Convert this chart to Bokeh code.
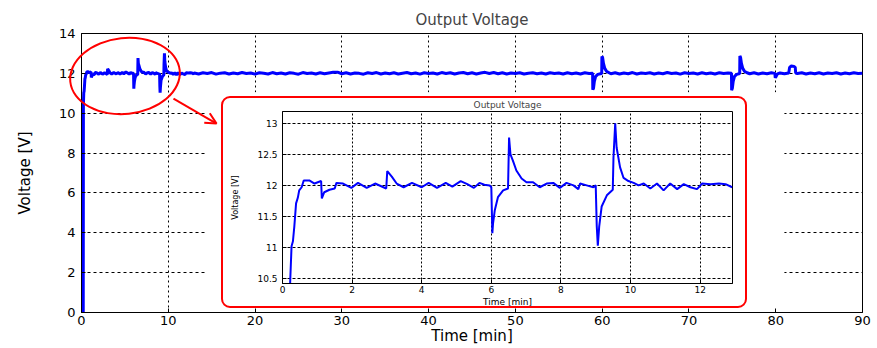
from bokeh.plotting import figure
from bokeh.layouts import column
from bokeh.models import (Range1d, FixedTicker, NumeralTickFormatter, Arrow, OpenHead, Div)
from bokeh.embed import file_html
from bokeh.resources import INLINE

FONT = "DejaVu Sans"
BLUE = "#0000FF"

# ---------------- data ----------------
# zoomed first minutes (inset), also the start of the main trace
inset_t = [0.20, 0.22, 0.26, 0.30, 0.34, 0.39, 0.44, 0.48, 0.55, 0.61,
           0.77, 0.92, 1.11, 1.13, 1.20, 1.35, 1.50, 1.55, 1.74, 1.98,
           2.17, 2.42, 2.66, 2.98, 3.01, 3.14, 3.28, 3.48, 3.72, 4.00,
           4.20, 4.44, 4.69, 4.88, 5.12, 5.31, 5.50, 5.66, 5.80, 5.95,
           6.00, 6.03, 6.05, 6.10, 6.19, 6.34, 6.48, 6.51, 6.55, 6.62,
           6.72, 6.87, 7.01, 7.20, 7.39, 7.59, 7.78, 7.97, 8.16, 8.36,
           8.50, 8.55, 8.74, 8.93, 9.00, 9.03, 9.06, 9.10, 9.17, 9.32,
           9.49, 9.51, 9.56, 9.60, 9.70, 9.80, 9.94, 10.09, 10.23, 10.38,
           10.57, 10.76, 10.95, 11.14, 11.34, 11.53, 11.72, 11.91, 12.06, 12.30,
           12.54, 12.73, 12.92]
inset_v = [0.00, 10.44, 11.02, 11.10, 11.34, 11.71, 11.80, 11.92, 11.97, 12.08,
           12.08, 12.03, 12.07, 11.79, 11.89, 11.93, 11.95, 12.04, 12.03, 11.96,
           12.04, 11.96, 12.03, 11.95, 12.23, 12.14, 12.03, 11.97, 12.04, 11.97,
           12.04, 11.96, 12.04, 11.98, 12.07, 12.02, 11.96, 12.04, 12.01, 12.00,
           11.97, 11.23, 11.39, 11.60, 11.81, 11.92, 11.95, 12.77, 12.50, 12.40,
           12.24, 12.11, 12.05, 12.05, 11.97, 12.03, 12.04, 11.96, 12.04, 12.00,
           11.94, 12.03, 12.00, 11.97, 12.00, 11.34, 11.03, 11.34, 11.66, 11.84,
           11.93, 12.45, 13.00, 12.61, 12.29, 12.12, 12.07, 12.04, 12.00, 12.03,
           11.95, 12.03, 11.92, 12.03, 11.94, 12.02, 11.97, 11.94, 12.03, 12.02,
           12.03, 12.02, 11.97]

# rest of the 90-minute run
rest_t = [13.0, 13.5, 14.0, 14.5, 15.0, 15.5, 16.0, 16.5, 17.0, 17.5,
          18.0, 18.5, 19.0, 19.5, 20.0, 20.5, 21.0, 21.5, 22.0, 22.5,
          23.0, 23.5, 24.0, 24.5, 25.0, 25.5, 26.0, 26.5, 27.0, 27.5,
          28.0, 28.5, 29.0, 29.5, 30.0, 30.5, 31.0, 31.5, 32.0, 32.5,
          33.0, 33.5, 34.0, 34.5, 35.0, 35.5, 36.0, 36.5, 37.0, 37.5,
          38.0, 38.5, 39.0, 39.5, 40.0, 40.5, 41.0, 41.5, 42.0, 42.5,
          43.0, 43.5, 44.0, 44.5, 45.0, 45.5, 46.0, 46.5, 47.0, 47.5,
          48.0, 48.5, 49.0, 49.5, 50.0, 50.5, 51.0, 51.5, 52.0, 52.5,
          53.0, 53.5, 54.0, 54.5, 55.0, 55.5, 56.0, 56.5, 57.0, 57.5,
          58.0, 58.5, 58.90, 58.92, 59.00, 59.10, 59.25, 59.50, 59.80, 59.95,
          59.97, 60.05, 60.15, 60.30, 60.50, 60.80, 61.0, 61.5, 62.0, 62.5,
          63.0, 63.5, 64.0, 64.5, 65.0, 65.5, 66.0, 66.5, 67.0, 67.5,
          68.0, 68.5, 69.0, 69.5, 70.0, 70.5, 71.0, 71.5, 72.0, 72.5,
          73.0, 73.5, 74.0, 74.5, 74.90, 74.92, 75.00, 75.10, 75.25, 75.50,
          75.85, 75.87, 75.95, 76.05, 76.20, 76.40, 76.70, 77.0, 77.5, 78.0,
          78.5, 79.0, 79.5, 79.90, 79.95, 80.05, 80.20, 80.5, 81.0, 81.5,
          81.60, 81.80, 82.10, 82.25, 82.30, 82.5, 83.0, 83.5, 84.0, 84.5,
          85.0, 85.5, 86.0, 86.5, 87.0, 87.5, 88.0, 88.5, 89.0, 89.5,
          90.0]
rest_v = [12.02, 11.97, 12.03, 11.99, 12.04, 11.96, 12.01, 12.03, 11.97, 12.02,
          11.98, 12.04, 11.99, 12.02, 11.96, 12.03, 12.00, 11.97, 12.04, 11.98,
          12.02, 11.97, 12.03, 12.00, 11.96, 12.04, 11.99, 12.02, 11.97, 12.03,
          11.98, 12.02, 12.05, 12.06, 11.98, 12.03, 11.97, 12.02, 12.00, 11.96,
          12.03, 11.99, 12.04, 11.97, 12.02, 11.98, 12.03, 11.97, 12.01, 12.04,
          11.98, 12.02, 11.96, 12.03, 11.99, 12.02, 11.97, 12.04, 11.99, 12.03,
          11.97, 12.02, 12.04, 11.98, 12.03, 11.97, 12.02, 12.05, 11.99, 12.04,
          11.98, 12.03, 11.97, 12.02, 11.99, 12.03, 11.97, 12.01, 12.03, 11.98,
          12.02, 11.97, 12.03, 11.99, 12.02, 11.97, 12.03, 11.98, 12.02, 11.97,
          12.03, 11.99, 12.00, 11.18, 11.25, 11.60, 11.85, 11.95, 11.98, 11.99,
          12.85, 12.80, 12.50, 12.25, 12.10, 12.03, 11.98, 12.03, 11.97, 12.02,
          11.98, 12.04, 11.97, 12.02, 11.99, 12.03, 11.97, 12.02, 11.98, 12.04,
          11.99, 12.02, 11.96, 12.03, 11.99, 12.02, 11.97, 12.03, 11.98, 12.02,
          11.97, 12.03, 11.99, 12.02, 12.00, 11.15, 11.25, 11.60, 11.85, 11.95,
          11.99, 12.87, 12.80, 12.50, 12.25, 12.10, 12.03, 11.98, 12.03, 11.97,
          12.02, 11.98, 12.03, 12.00, 11.78, 11.85, 11.97, 12.02, 11.98, 12.02,
          12.30, 12.37, 12.35, 12.30, 12.02, 11.99, 12.03, 11.97, 12.02, 11.98,
          12.03, 11.97, 12.02, 11.99, 12.03, 11.97, 12.02, 11.98, 12.03, 11.99,
          12.01]

assert len(inset_t) == len(inset_v)
assert len(rest_t) == len(rest_v)
main_t = inset_t + rest_t
main_v = inset_v + rest_v

main_x_ticks = [0, 10, 20, 30, 40, 50, 60, 70, 80, 90]
main_y_ticks = [0, 2, 4, 6, 8, 10, 12, 14]
inset_x_ticks = [0, 2, 4, 6, 8, 10, 12]
inset_y_ticks = [10.5, 11, 11.5, 12, 12.5, 13]

# annotation geometry (data units of the main plot)
ARROW = dict(x0=10.6, y0=10.73, x1=15.56, y1=9.48)
BLANK = dict(left=14.46, right=81.0, bottom=0.02, top=11.05)


def style_axes(fig, tick_size, label_size):
    for ax in (fig.xaxis[0], fig.yaxis[0]):
        ax.axis_line_color = "black"
        ax.major_tick_in = 4
        ax.major_tick_out = 0
        ax.minor_tick_line_color = None
        ax.major_tick_line_color = "black"
        ax.major_label_text_font = FONT
        ax.major_label_text_font_size = tick_size
        ax.major_label_text_color = "black"
        ax.axis_label_text_font = FONT
        ax.axis_label_text_font_size = label_size
        ax.axis_label_text_font_style = "normal"
        ax.axis_label_text_color = "black"
    fig.outline_line_color = "black"
    fig.outline_line_alpha = 1.0


# ---------------- main plot ----------------
p = figure(width=876, height=347, x_range=Range1d(0, 90), y_range=Range1d(0, 14),
           output_backend="svg", toolbar_location=None,
           min_border_left=81, min_border_right=10, min_border_top=33, min_border_bottom=34,
           title="Output Voltage", x_axis_label="Time [min]", y_axis_label="Voltage [V]")
p.title.text_font = FONT
p.title.text_font_size = "15px"
p.title.text_font_style = "normal"
p.title.align = "center"
p.title.standoff = 9
style_axes(p, "13px", "15px")
p.xaxis.ticker = FixedTicker(ticks=main_x_ticks)
p.yaxis.ticker = FixedTicker(ticks=main_y_ticks)
p.xaxis.major_label_standoff = 3
p.xaxis.axis_label_standoff = -1
p.yaxis.major_label_standoff = 6
p.yaxis.axis_label_standoff = 22
p.xgrid.grid_line_color = "black"
p.xgrid.grid_line_dash = "2 3"
p.ygrid.grid_line_color = "black"
p.ygrid.grid_line_dash = "3 3"

p.quad(left=[BLANK["left"]], right=[BLANK["right"]], bottom=[BLANK["bottom"]], top=[BLANK["top"]],
       fill_color="white", line_color=None)
p.line(main_t, main_v, line_color=BLUE, line_width=3)
p.add_layout(Arrow(end=OpenHead(size=11, line_color="red", line_width=2),
                   x_start=ARROW["x0"], y_start=ARROW["y0"], x_end=ARROW["x1"], y_end=ARROW["y1"],
                   line_color="red", line_width=2))

# hand-drawn red ellipse around the first minutes (crosses the axis, so it is a DOM overlay)
ring = Div(text="", width=112, height=78, margin=0,
           styles={"position": "absolute", "left": "69px", "top": "37px",
                   "border": "2px solid red", "border-radius": "50%",
                   "box-sizing": "border-box", "transform": "rotate(-6deg)",
                   "pointer-events": "none"})

# red rounded frame around the zoomed view
box = Div(text="", width=526, height=212, margin=0,
          styles={"position": "absolute", "left": "221px", "top": "96px",
                  "border": "2px solid red", "border-radius": "9px", "box-sizing": "border-box"})

# ---------------- inset ----------------
inset = figure(width=545, height=213, x_range=Range1d(0, 12.93), y_range=Range1d(10.42, 13.19),
               output_backend="svg", toolbar_location=None,
               min_border_left=40, min_border_right=14, min_border_top=15, min_border_bottom=24,
               title="Output Voltage", x_axis_label="Time [min]", y_axis_label="Voltage [V]")
inset.border_fill_alpha = 0
inset.background_fill_color = "white"
inset.title.text_font = FONT
inset.title.text_font_size = "9px"
inset.title.text_font_style = "normal"
inset.title.align = "center"
inset.title.standoff = 3
style_axes(inset, "9px", "9px")
inset.yaxis.axis_label_text_font_size = "8px"
inset.xaxis.ticker = FixedTicker(ticks=inset_x_ticks)
inset.yaxis.ticker = FixedTicker(ticks=inset_y_ticks)
inset.yaxis.formatter = NumeralTickFormatter(format="0[.]0")
inset.xaxis.major_label_standoff = 2
inset.xaxis.axis_label_standoff = 1
inset.yaxis.major_label_standoff = 5
inset.yaxis.axis_label_standoff = 14
inset.xgrid.grid_line_color = "black"
inset.xgrid.grid_line_dash = "2 2"
inset.ygrid.grid_line_color = "black"
inset.ygrid.grid_line_dash = "3 2"
inset.line(inset_t, inset_v, line_color=BLUE, line_width=2)
inset.styles = {"position": "absolute", "left": "201px", "top": "96px"}

layout = column(p, ring, box, inset)
layout.styles = {"position": "relative"}

open("out.html", "w").write(file_html(layout, INLINE))
